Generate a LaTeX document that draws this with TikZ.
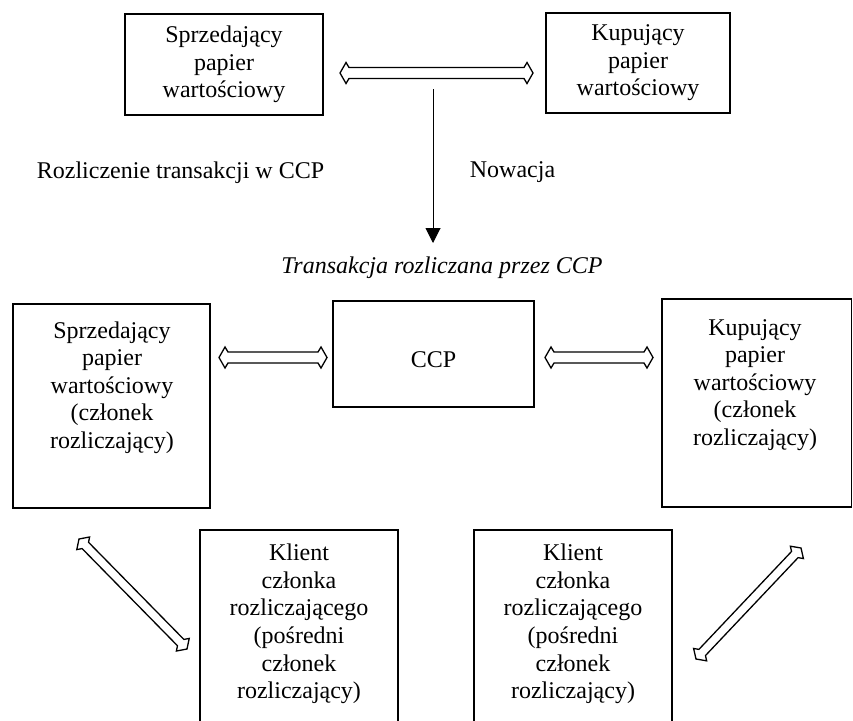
\documentclass[tikz,border=0pt]{standalone}
\usepackage{fontspec}
\setmainfont{Liberation Serif}
\usetikzlibrary{calc,arrows.meta}
% #1,#2 ends; #3 head corner distance; #4 shaft start distance; #5 head half width; #6 shaft half width
\newcommand{\dblarrow}[6]{%
  \draw[arrline] (#1)
  -- ($(#1)!#3!(#2)!#5!90:(#2)$)
  -- ($(#1)!#4!(#2)!#6!90:(#2)$)
  -- ($(#2)!#4!(#1)!#6!-90:(#1)$)
  -- ($(#2)!#3!(#1)!#5!-90:(#1)$)
  -- (#2)
  -- ($(#2)!#3!(#1)!#5!90:(#1)$)
  -- ($(#2)!#4!(#1)!#6!90:(#1)$)
  -- ($(#1)!#4!(#2)!#6!-90:(#2)$)
  -- ($(#1)!#3!(#2)!#5!-90:(#2)$)
  -- cycle;}
\begin{document}
\begin{tikzpicture}[x=1pt,y=-1pt,
  box/.style={draw, line width=1.5pt, rectangle, inner sep=0pt},
  txt/.style={align=center, font=\fontsize{24}{27.6}\selectfont, inner sep=0pt},
  boxtxt/.style={box, txt},
  arrline/.style={draw, line width=1.3pt, line join=miter, fill=white},
  thinarrow/.style={draw, line width=1pt, -{Triangle[length=15pt,width=15pt]}}
]
\useasboundingbox (0,0) rectangle (853,720);
\clip (0,0) rectangle (853,720);

% top boxes
\node[boxtxt, minimum width=198pt, minimum height=101pt] (tl) at (224,64.5)
  {Sprzedający\\papier\\wartościowy};
\node[boxtxt, minimum width=184pt, minimum height=100pt] (tr) at (638,63)
  {Kupujący\\papier\\wartościowy};

\coordinate (ta1) at (340,73);
\coordinate (ta2) at (533,73);
\dblarrow{ta1}{ta2}{6pt}{9pt}{10.5pt}{5.5pt}

% novation arrow
\coordinate (v1) at (433,89);
\coordinate (v2) at (433,243);
\draw[thinarrow] (v1) -- (v2);

\node[txt] (lab1) at (180.5,173) {Rozliczenie transakcji w CCP};
\node[txt] (lab2) at (512.5,172) {Nowacja};
\node[txt, font=\fontsize{24}{27.6}\selectfont\itshape] (title) at (442,268)
  {Transakcja rozliczana przez CCP};

% middle row
\node[box, minimum width=197pt, minimum height=204pt] (lb) at (111.5,406) {};
\node[txt] (lbt) at (112,387.5)
  {Sprzedający\\papier\\wartościowy\\(członek\\rozliczający)};
\node[boxtxt, minimum width=201pt, minimum height=106pt] (ccp) at (433.5,354) {};
\node[txt] (ccpt) at (433.5,360) {CCP};
\node[box, minimum width=189.5pt, minimum height=208pt] (rb) at (756.75,403) {};
\node[txt] (rbt) at (755,385)
  {Kupujący\\papier\\wartościowy\\(członek\\rozliczający)};

\coordinate (la1) at (219,357.5);
\coordinate (la2) at (327,357.5);
\dblarrow{la1}{la2}{6pt}{9pt}{10.5pt}{5.5pt}
\coordinate (ra1) at (545,357.5);
\coordinate (ra2) at (653,357.5);
\dblarrow{ra1}{ra2}{6pt}{9pt}{10.5pt}{5.5pt}

% bottom row
\node[box, minimum width=198pt, minimum height=220pt] (bl) at (299,640) {};
\node[txt] (blt) at (299,624)
  {Klient\\członka\\rozliczającego\\(pośredni\\członek\\rozliczający)};
\node[box, minimum width=198pt, minimum height=220pt] (br) at (573,640) {};
\node[txt] (brt) at (573,624)
  {Klient\\członka\\rozliczającego\\(pośredni\\członek\\rozliczający)};

\coordinate (da1) at (79,539);
\coordinate (da2) at (187,649);
\dblarrow{da1}{da2}{6pt}{9pt}{9pt}{4.5pt}
\coordinate (db1) at (696,659);
\coordinate (db2) at (801,548);
\dblarrow{db1}{db2}{6pt}{9pt}{9pt}{4.5pt}
\end{tikzpicture}
\end{document}
